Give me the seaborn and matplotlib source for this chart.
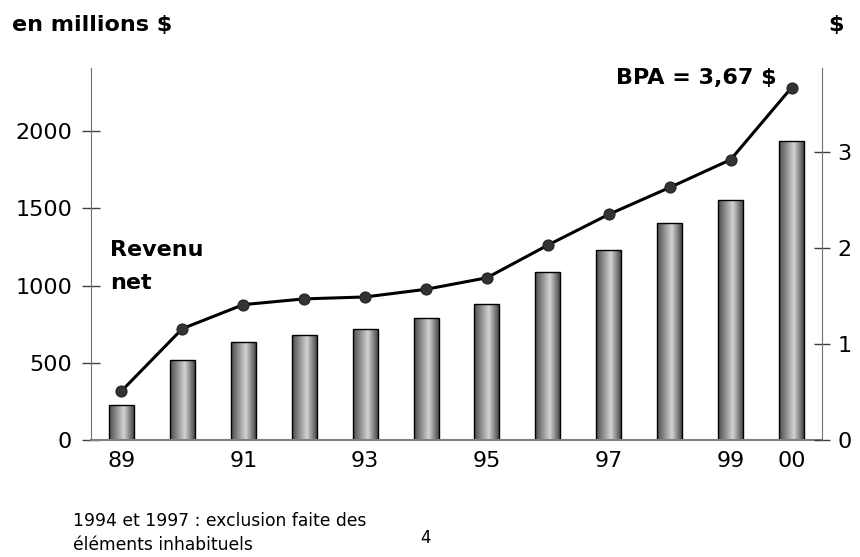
import matplotlib
matplotlib.use("Agg")
import matplotlib.pyplot as plt
import seaborn as sns
import numpy as np
import pandas as pd

# données
years = ['89', '90', '91', '92', '93', '94', '95', '96', '97', '98', '99', '00']
shown_years = ['89', '91', '93', '95', '97', '99', '00']
net_income = [225, 515, 635, 680, 718, 790, 880, 1085, 1228, 1405, 1555, 1935]
eps = [0.51, 1.16, 1.41, 1.47, 1.49, 1.57, 1.69, 2.03, 2.35, 2.63, 2.92, 3.67]
left_ticks = [0, 500, 1000, 1500, 2000]
right_ticks = [0, 1, 2, 3]

sns.set_style("white")
plt.rcParams['font.family'] = ['DejaVu Sans']
plt.rcParams['text.color'] = 'black'

df = pd.DataFrame({'annee': years, 'revenu': net_income, 'bpa': eps})

fig = plt.figure(figsize=(8.6, 5.57), dpi=100)
ax = fig.add_axes([0.1058, 0.210, 0.850, 0.668])

sns.barplot(data=df, x='annee', y='revenu', ax=ax, width=0.41,
            color='#aaaaaa', saturation=1, edgecolor='black', linewidth=1.0)

# dégradé "cylindre" dans chaque barre
grad = np.concatenate([np.linspace(0.30, 0.82, 60), np.linspace(0.82, 0.28, 40)])[None, :]
for p in ax.patches:
    x0, y0 = p.get_x(), p.get_y()
    w, h = p.get_width(), p.get_height()
    im = ax.imshow(grad, cmap='gray', vmin=0, vmax=1, aspect='auto',
                   extent=[x0, x0 + w, y0, y0 + h], zorder=p.get_zorder(),
                   interpolation='bilinear')
    im.set_clip_path(p)
    p.set_facecolor('none')
    p.set_zorder(p.get_zorder() + 0.1)

ax.set_xlim(-0.5, len(years) - 0.5)
ax.set_ylim(0, 2408)
ax.set_yticks(left_ticks)
ax.set_yticklabels([str(t) for t in left_ticks])
ax.set_xticks(range(len(years)))
ax.set_xticklabels([y if y in shown_years else '' for y in years])
ax.set_xlabel('')
ax.set_ylabel('')
ax.tick_params(axis='y', direction='inout', length=13, width=1, color='#404040',
               labelsize=16, pad=7, left=True, labelcolor='black')
ax.tick_params(axis='x', length=0, labelsize=16, pad=8, labelcolor='black')
for s in ['top', 'right']:
    ax.spines[s].set_visible(False)
ax.spines['left'].set_color('#707070')
ax.spines['bottom'].set_color('#808080')
ax.spines['bottom'].set_linewidth(1.5)

ax2 = ax.twinx()
sns.lineplot(x=np.arange(len(years)), y=df['bpa'], ax=ax2, color='black', linewidth=2.2,
             marker='o', markersize=8, markerfacecolor='#333333', markeredgecolor='#222222')
ax2.set_ylim(0, 3.875)
ax2.set_yticks(right_ticks)
ax2.set_yticklabels([str(t) for t in right_ticks])
ax2.set_ylabel('')
ax2.tick_params(axis='y', direction='inout', length=12, width=1, color='#404040',
                labelsize=16, pad=5, right=True, labelcolor='black')
for s in ['top', 'left', 'bottom']:
    ax2.spines[s].set_visible(False)
ax2.spines['right'].set_color('#707070')

fig.text(0.014, 0.955, 'en millions $', fontsize=16, fontweight='bold', va='center')
fig.text(0.963, 0.955, '$', fontsize=16, fontweight='bold', va='center')
fig.text(0.716, 0.860, 'BPA = 3,67 $', fontsize=16, fontweight='bold', va='center')
fig.text(0.128, 0.521, 'Revenu\nnet', fontsize=16, fontweight='bold', va='center',
         linespacing=1.8)
fig.text(0.085, 0.043, '1994 et 1997 : exclusion faite des\néléments inhabituels',
         fontsize=12.3, va='center', linespacing=1.45)
fig.text(0.489, 0.034, '4', fontsize=12, va='center')

fig.savefig('out.png', dpi=100)
